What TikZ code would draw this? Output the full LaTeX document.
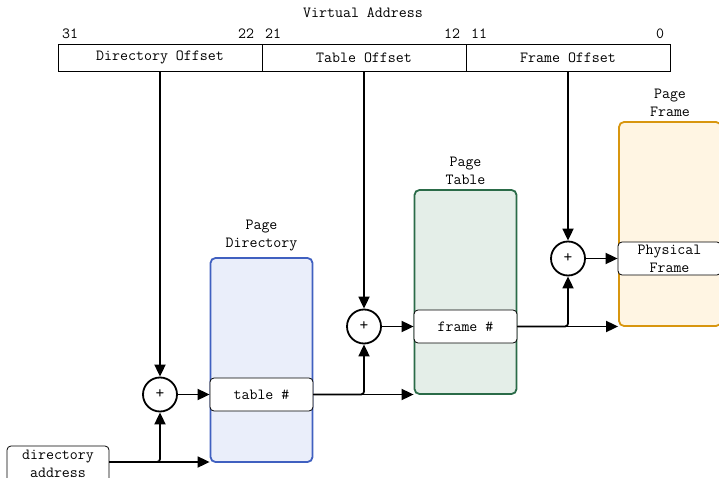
\documentclass[tikz,border=0pt]{standalone}
\usetikzlibrary{arrows.meta}
\definecolor{pdborder}{HTML}{4060C0}
\definecolor{pdfill}{HTML}{EAEEFA}
\definecolor{ptborder}{HTML}{2A6B48}
\definecolor{ptfill}{HTML}{E4EEE8}
\definecolor{pfborder}{HTML}{D8960F}
\definecolor{pffill}{HTML}{FFF5E3}
\begin{document}
\begin{tikzpicture}[x=1pt,y=-1pt,
  font=\ttfamily\fontsize{15.5}{18}\selectfont,
  field/.style={draw, line width=0.8pt, minimum width=204pt, minimum height=27pt, inner sep=0pt},
  mem/.style={draw, line width=1.8pt, rounded corners=5pt, minimum width=102pt, minimum height=204pt, inner sep=0pt},
  entry/.style={draw, fill=white, line width=0.8pt, rounded corners=4pt, minimum width=103pt, minimum height=33pt, inner sep=0pt, align=center},
  adder/.style={draw, circle, line width=1.8pt, minimum size=34pt, inner sep=0pt, font=\ttfamily\fontsize{17}{18}\selectfont},
  lbl/.style={align=center, inner sep=0pt},
  conn/.style={line width=1.8pt, -{Triangle[length=12pt,width=11pt]}}
]
\useasboundingbox (0,0) rectangle (719,478);

% virtual address
\node[lbl] (va) at (363,13) {Virtual Address};
\node[lbl] (b31) at (70,34) {31};
\node[lbl] (b22) at (246,34) {22};
\node[lbl] (b21) at (273,34) {21};
\node[lbl] (b12) at (452,34) {12};
\node[lbl] (b11) at (479,34) {11};
\node[lbl] (b0) at (660,34) {0};
\node[field] (f1) at (160,57.5) {Directory Offset};
\node[field] (f2) at (364,57.5) {Table Offset};
\node[field] (f3) at (568,57.5) {Frame Offset};

% memories
\node[mem, draw=pdborder, fill=pdfill] (pd) at (261.5,360) {};
\node[lbl] (pdl) at (261.5,236) {Page\\Directory};
\node[mem, draw=ptborder, fill=ptfill] (pt) at (465.5,292) {};
\node[lbl] (ptl) at (465.5,171) {Page\\Table};
\node[mem, draw=pfborder, fill=pffill] (pf) at (670,224) {};
\node[lbl] (pfl) at (670,103) {Page\\Frame};

\node[entry] (tn) at (261.5,394.5) {table \#};
\node[entry] (fn) at (465.5,326.5) {frame \#};
\node[entry] (phf) at (669.5,258.5) {Physical\\Frame};

\node[entry, minimum width=102pt, minimum height=36pt] (da) at (58,464) {directory\\address};

% adders
\node[adder] (p1) at (160,394.5) {+};
\node[adder] (p2) at (364,326.5) {+};
\node[adder] (p3) at (568,258.5) {+};

% connectors
\draw[conn] (f1.south) -- (p1.north);
\draw[conn] (f2.south) -- (p2.north);
\draw[conn] (f3.south) -- (p3.north);

\draw[conn] (da.east |- 0,462) -- (pd.west |- 0,462);
\draw[conn, rounded corners=3pt] (da.east |- 0,462) -| (p1.south);
\draw[conn] (p1.east) -- (tn.west);

\draw[conn] (tn.east) -- (tn.east -| pt.west);
\draw[conn, rounded corners=3pt] (tn.east) -| (p2.south);
\draw[conn] (p2.east) -- (fn.west);

\draw[conn] (fn.east) -- (fn.east -| pf.west);
\draw[conn, rounded corners=3pt] (fn.east) -| (p3.south);
\draw[conn] (p3.east) -- (phf.west);
\end{tikzpicture}
\end{document}
